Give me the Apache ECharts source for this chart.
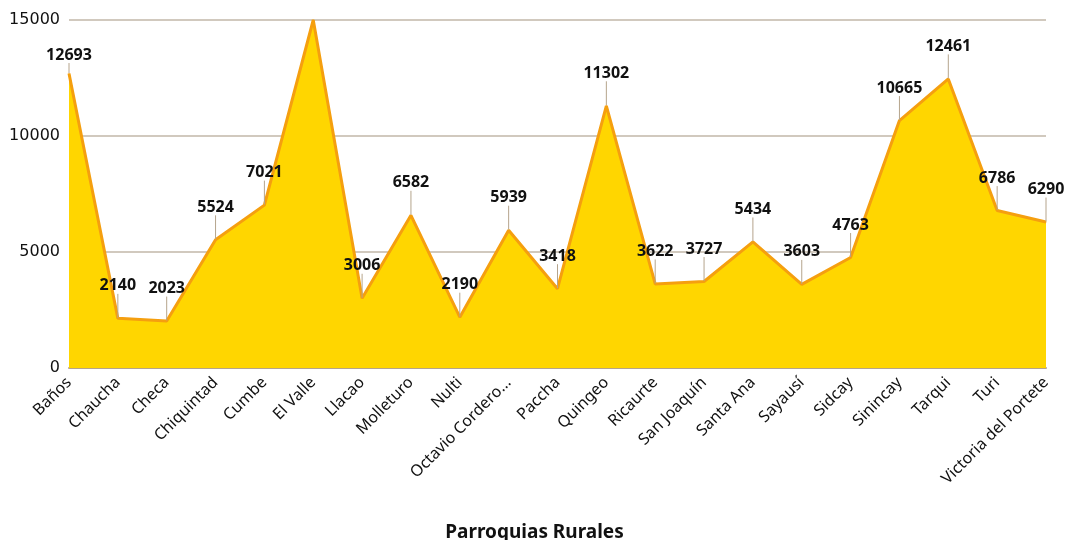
<!DOCTYPE html>
<html>
<head>
<meta charset="utf-8">
<script src="https://cdn.jsdelivr.net/npm/echarts@6/dist/echarts.min.js"></script>
<style>
  html, body { margin: 0; padding: 0; background: #fff; }
  #chart { width: 1069px; height: 540px; }
</style>
</head>
<body>
<div id="chart"></div>
<script>
// parroquias rurales
var categories = ["Baños", "Chaucha", "Checa", "Chiquintad", "Cumbe", "El Valle", "Llacao", "Molleturo", "Nulti", "Octavio Cordero...", "Paccha", "Quingeo", "Ricaurte", "San Joaquín", "Santa Ana", "Sayausí", "Sidcay", "Sinincay", "Tarqui", "Turi", "Victoria del Portete"];
var values = [12693, 2140, 2023, 5524, 7021, 15000, 3006, 6582, 2190, 5939, 3418, 11302, 3622, 3727, 5434, 3603, 4763, 10665, 12461, 6786, 6290];
var yTicks = [0, 5000, 10000, 15000];
// la etiqueta de El Valle queda fuera del grafico
var hiddenLabels = ["El Valle"];

var seriesData = values.map(function (v, i) {
  if (hiddenLabels.indexOf(categories[i]) >= 0) {
    return { value: v, label: { show: false }, labelLine: { show: false } };
  }
  return v;
});

var myChart = echarts.init(document.getElementById("chart"));
myChart.setOption({
  animation: false,
  title: {
    text: "Parroquias Rurales",
    left: "center",
    top: 518,
    textStyle: { fontFamily: "Noto Sans", fontSize: 19, fontWeight: "bold", color: "#111" }
  },
  grid: { left: 69, right: 23, top: 20, bottom: 172 },
  xAxis: {
    type: "category",
    data: categories,
    boundaryGap: false,
    axisLine: { lineStyle: { color: "#b5a48c", width: 2 } },
    axisTick: { show: false },
    axisLabel: {
      interval: 0,
      rotate: 45,
      margin: 12,
      fontFamily: "Noto Sans",
      fontSize: 16,
      color: "#111"
    }
  },
  yAxis: {
    type: "value",
    min: yTicks[0],
    max: yTicks[yTicks.length - 1],
    interval: 5000,
    axisLine: { show: false },
    axisTick: { show: false },
    splitLine: { lineStyle: { color: "#c2b7a8", width: 1.5 } },
    axisLabel: {
      margin: 9,
      fontFamily: "DejaVu Sans",
      fontSize: 16,
      color: "#111",
      formatter: function (v) { return String(v); }
    }
  },
  series: [
    {
      type: "line",
      data: seriesData,
      symbol: "circle",
      symbolSize: 1,
      showSymbol: true,
      itemStyle: { color: "#f59f0f" },
      lineStyle: { color: "#f59f0f", width: 3 },
      areaStyle: { color: "#ffd600", opacity: 1 },
      label: {
        show: true,
        position: "top",
        distance: 2,
        fontFamily: "Noto Sans",
        fontSize: 16,
        fontWeight: "bold",
        color: "#111"
      },
      labelLayout: function (params) {
        // la primera etiqueta va mas cerca del punto
        return { dy: params.dataIndex === 0 ? -8 : -22 };
      },
      labelLine: { show: true, lineStyle: { color: "#b5a48c", width: 1 } }
    }
  ]
});
</script>
</body>
</html>
